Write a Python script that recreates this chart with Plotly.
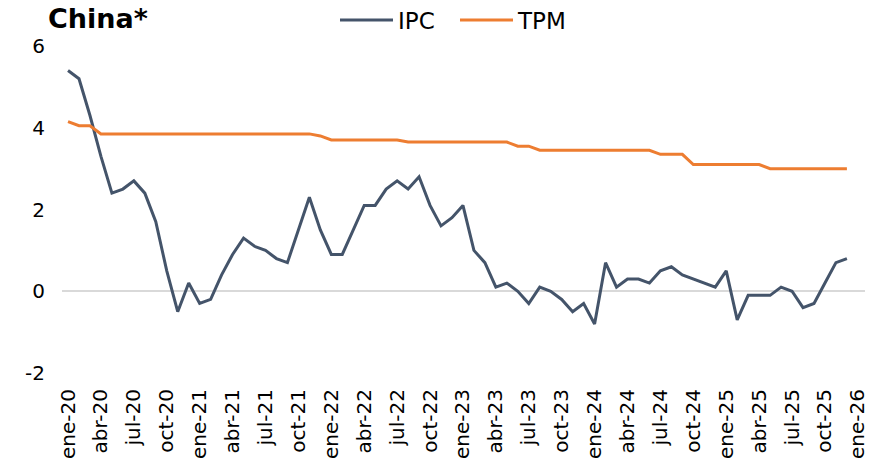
import plotly.graph_objects as go

# Monthly data, ene-20 .. dic-25
ipc = [5.4, 5.2, 4.3, 3.3, 2.4, 2.5, 2.7, 2.4, 1.7, 0.5, -0.5, 0.2,
       -0.3, -0.2, 0.4, 0.9, 1.3, 1.1, 1.0, 0.8, 0.7, 1.5, 2.3, 1.5,
       0.9, 0.9, 1.5, 2.1, 2.1, 2.5, 2.7, 2.5, 2.8, 2.1, 1.6, 1.8,
       2.1, 1.0, 0.7, 0.1, 0.2, 0.0, -0.3, 0.1, 0.0, -0.2, -0.5, -0.3,
       -0.8, 0.7, 0.1, 0.3, 0.3, 0.2, 0.5, 0.6, 0.4, 0.3, 0.2, 0.1,
       0.5, -0.7, -0.1, -0.1, -0.1, 0.1, 0.0, -0.4, -0.3, 0.2, 0.7, 0.8]
tpm = [4.15, 4.05, 4.05, 3.85, 3.85, 3.85, 3.85, 3.85, 3.85, 3.85, 3.85, 3.85,
       3.85, 3.85, 3.85, 3.85, 3.85, 3.85, 3.85, 3.85, 3.85, 3.85, 3.85, 3.80,
       3.70, 3.70, 3.70, 3.70, 3.70, 3.70, 3.70, 3.65, 3.65, 3.65, 3.65, 3.65,
       3.65, 3.65, 3.65, 3.65, 3.65, 3.55, 3.55, 3.45, 3.45, 3.45, 3.45, 3.45,
       3.45, 3.45, 3.45, 3.45, 3.45, 3.45, 3.35, 3.35, 3.35, 3.10, 3.10, 3.10,
       3.10, 3.10, 3.10, 3.10, 3.00, 3.00, 3.00, 3.00, 3.00, 3.00, 3.00, 3.00]
tick_labels = ["ene-20", "abr-20", "jul-20", "oct-20",
               "ene-21", "abr-21", "jul-21", "oct-21",
               "ene-22", "abr-22", "jul-22", "oct-22",
               "ene-23", "abr-23", "jul-23", "oct-23",
               "ene-24", "abr-24", "jul-24", "oct-24",
               "ene-25", "abr-25", "jul-25", "oct-25", "ene-26"]
y_ticks = [-2, 0, 2, 4, 6]
y_tick_labels = ["-2", "0", "2", "4", "6"]

months = list(range(len(ipc)))
tick_pos = [3 * i for i in range(len(tick_labels))]

FONT = "DejaVu Sans"
W, H = 871, 466

fig = go.Figure()
fig.add_trace(go.Scatter(x=months, y=ipc, mode="lines", name="IPC",
                         line=dict(color="#44546A", width=3)))
fig.add_trace(go.Scatter(x=months, y=tpm, mode="lines", name="TPM",
                         line=dict(color="#ED7D31", width=3)))

fig.update_layout(
    width=W, height=H,
    margin=dict(l=62, r=6, t=46, b=93, autoexpand=False),
    paper_bgcolor="white", plot_bgcolor="white",
    font=dict(family=FONT, color="#000000", size=20),
    title=dict(text="<b>China*</b>", x=48 / W, xref="container", xanchor="left",
               y=1 - 19 / H, yref="container", yanchor="middle",
               font=dict(family=FONT, size=27, color="#000000")),
    legend=dict(orientation="h", x=335 / W, xref="container", xanchor="left",
                y=1 - 20 / H, yref="container", yanchor="middle",
                font=dict(family=FONT, size=23), bgcolor="rgba(0,0,0,0)",
                itemwidth=53, entrywidth=52, tracegroupgap=0),
    showlegend=True,
)
fig.update_xaxes(range=[-0.55, 72.65], tickmode="array", tickvals=tick_pos,
                 ticktext=tick_labels, tickangle=-90, showgrid=False,
                 zeroline=False, showline=False, ticks="", automargin=False,
                 ticklabelstandoff=11,
                 tickfont=dict(family=FONT, size=20))
fig.update_yaxes(range=[-2, 6], tickmode="array", tickvals=y_ticks,
                 ticktext=y_tick_labels, automargin=False,
                 showgrid=False, zeroline=True, zerolinecolor="#D9D9D9",
                 zerolinewidth=2, showline=False, ticks="",
                 ticklabelstandoff=16,
                 tickfont=dict(family=FONT, size=20))

# remove the default page margin so the 871x466 figure fills the window exactly
fig.write_html("out.html",
               config={"displayModeBar": False},
               post_script="document.body.style.margin='0';document.body.style.overflow='hidden';")
